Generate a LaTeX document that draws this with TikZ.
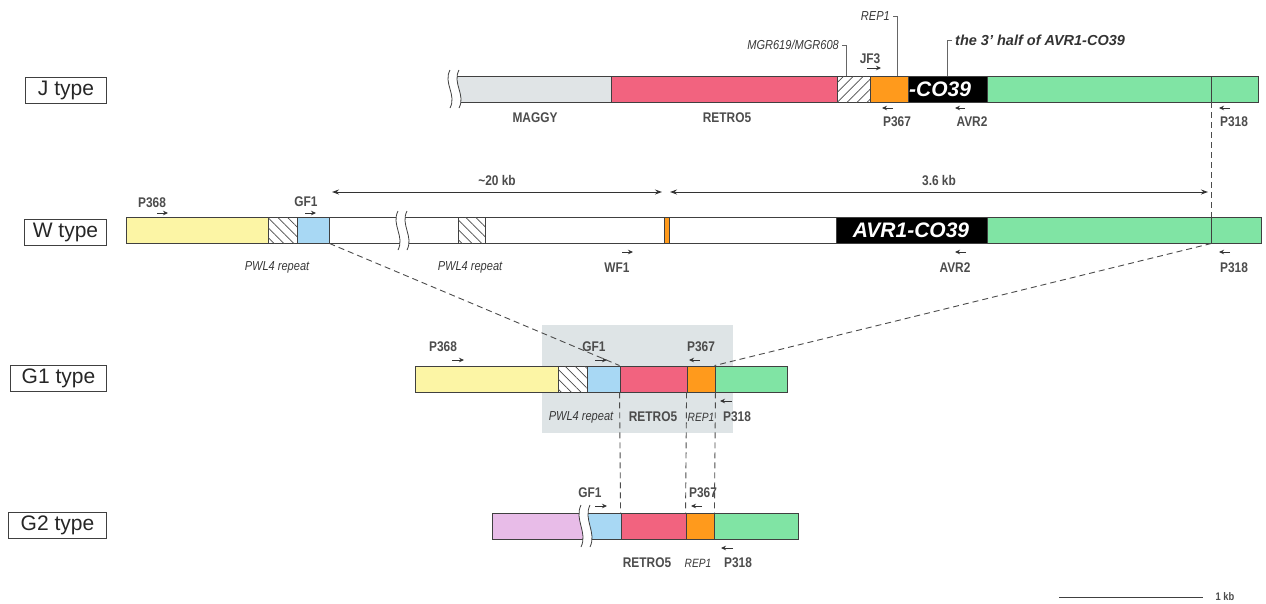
\documentclass[tikz,border=0pt]{standalone}
\usepackage{fontspec}
\setmainfont{Liberation Sans}
\newfontfamily\narrowsf[FakeStretch=0.85]{Liberation Sans}
\usetikzlibrary{arrows.meta, patterns.meta}
\definecolor{maggy}{HTML}{E0E4E6}
\definecolor{retro}{HTML}{F2637F}
\definecolor{rep}{HTML}{FF9A1C}
\definecolor{flank}{HTML}{80E4A4}
\definecolor{pwlyel}{HTML}{FCF5A5}
\definecolor{gfblue}{HTML}{A8D8F4}
\definecolor{lilac}{HTML}{E8BCE8}
\definecolor{gboxbg}{HTML}{DEE4E6}
% one block of a map: name, left x, right x, centre y, looks
\newcommand{\dnaseg}[5]{\node[segbox, #5, minimum width={(#3-#2)*1pt}] (#1) at ({(#2+#3)/2},#4) {};}
% break mark: left x, top y, bottom y
\newcommand{\barbreak}[3]{%
  \fill[white] (#1,#2) .. controls ({#1-7},{#2+0.35*(#3-#2)}) and ({#1+7},{#2+0.65*(#3-#2)}) .. (#1,#3)
    -- ({#1+9},#3) .. controls ({#1+16},{#2+0.65*(#3-#2)}) and ({#1+2},{#2+0.35*(#3-#2)}) .. ({#1+9},#2) -- cycle;
  \draw[brkline] (#1,#2) .. controls ({#1-7},{#2+0.35*(#3-#2)}) and ({#1+7},{#2+0.65*(#3-#2)}) .. (#1,#3);
  \draw[brkline] ({#1+9},#2) .. controls ({#1+2},{#2+0.35*(#3-#2)}) and ({#1+16},{#2+0.65*(#3-#2)}) .. ({#1+9},#3);}
\begin{document}
\begin{tikzpicture}[x=1pt, y=-1pt,
    every node/.style={inner sep=0pt},
    typebox/.style ={draw=black!75, line width=1pt, anchor=east, minimum height=26pt,
                     font=\fontsize{21}{24}\selectfont, text=black!85},
    segbox/.style  ={draw=black!75, line width=0.9pt, minimum height=26pt},
    hatchr/.style  ={fill=white, postaction={pattern={Lines[angle=45,distance=7pt,line width=0.7pt]}, pattern color=black!70}},
    hatchl/.style  ={fill=white, postaction={pattern={Lines[angle=-45,distance=7pt,line width=0.7pt]}, pattern color=black!70}},
    lbl/.style     ={font=\narrowsf\bfseries\fontsize{14}{16}\selectfont, text=black!70},
    ilbl/.style    ={font=\narrowsf\itshape\fontsize{13}{15}\selectfont, text=black!78},
    slbl/.style    ={font=\narrowsf\itshape\fontsize{12}{14}\selectfont, text=black!78},
    intext/.style  ={font=\bfseries\itshape\fontsize{21}{24}\selectfont, text=white},
    primer/.style  ={-{Stealth[length=5pt,width=4.5pt]}, line width=0.8pt, black!80},
    kbspan/.style  ={{Stealth[length=7pt,width=5pt]}-{Stealth[length=7pt,width=5pt]}, line width=0.9pt, black!80},
    leader/.style  ={line width=0.6pt, black!60},
    link/.style    ={dash pattern=on 6pt off 4pt, line width=0.9pt, black!70},
    brkline/.style ={line width=0.8pt, black!75},
]
\useasboundingbox (0,0) rectangle (1266,603);

% type labels
\node[typebox, minimum width=81pt] (jtype)  at (107,90)  {J type};
\node[typebox, minimum width=82pt] (wtype)  at (107,232) {W type};
\node[typebox, minimum width=96pt] (g1type) at (107,378) {G1 type};
\node[typebox, minimum width=98pt] (g2type) at (107,525) {G2 type};

% J type
\dnaseg{jmaggy}{456}{611}{89}{fill=maggy}
\dnaseg{jretro}{611}{837}{89}{fill=retro}
\dnaseg{jhatch}{837}{870}{89}{hatchr}
\dnaseg{jorange}{870}{908}{89}{fill=rep}
\dnaseg{javr}{908}{987}{89}{fill=black}
\dnaseg{jgreen}{987}{1211}{89}{fill=flank}
\dnaseg{jtail}{1211}{1258}{89}{fill=flank}
\barbreak{450}{70}{108}
\node[intext, anchor=west] (jco) at (909,89) {-CO39};
\node[lbl] (jmaggyl) at (535,118) {MAGGY};
\node[lbl] (jretrol) at (727,118) {RETRO5};
\node[ilbl, anchor=east] (mgr) at (839,45) {MGR619/MGR608};
\node[ilbl, anchor=east] (jrep) at (890,16) {REP1};
\node[lbl] (jf3) at (870,59) {JF3};
\node[font=\bfseries\itshape\fontsize{14.5}{16}\selectfont, text=black!80, anchor=west] (half) at (955,40) {the 3' half of AVR1-CO39};
\draw[leader] (mgr.east) ++(3,0) -| ([xshift=10pt]jhatch.north west);
\draw[leader] (jrep.east) ++(3,0) -| ([xshift=8pt]jorange.north);
\draw[leader] (half.west) ++(-3,0) -| (javr.north);
\draw[primer] (867,68) -- (881,68);
\draw[primer] (893,108) -- (882,108);
\draw[primer] (965,108) -- (955,108);
\draw[primer] (1230,108) -- (1219,108);
\node[lbl] (jp367) at (897,122) {P367};
\node[lbl] (javr2) at (972,122) {AVR2};
\node[lbl] (jp318) at (1234,122) {P318};

% W type
\dnaseg{wyel}{126}{268}{230}{fill=pwlyel}
\dnaseg{whatch}{268}{297}{230}{hatchl}
\dnaseg{wblue}{297}{329}{230}{fill=gfblue}
\dnaseg{wwhite}{329}{664}{230}{fill=white}
\dnaseg{worange}{664}{669}{230}{fill=rep}
\dnaseg{wwhiteb}{669}{836}{230}{fill=white}
\dnaseg{wavr}{836}{987}{230}{fill=black}
\dnaseg{wgreen}{987}{1211}{230}{fill=flank}
\dnaseg{wtail}{1211}{1261}{230}{fill=flank}
\dnaseg{whatchb}{458}{485}{230}{hatchl}
\barbreak{398}{211}{250}
\node[intext] (wco) at (911,230) {AVR1-CO39};
\coordinate (kbl) at (332,192);
\coordinate (kbm) at (662,192);
\coordinate (kbn) at (670,192);
\coordinate (kbr) at (1208,192);
\draw[kbspan] (kbl) -- node[above=6pt, lbl] {\textasciitilde20 kb} (kbm);
\draw[kbspan] (kbn) -- node[above=6pt, lbl] {3.6 kb} (kbr);
\node[lbl] (wp368) at (152,203) {P368};
\node[lbl] (wgf1) at (306,202) {GF1};
\draw[primer] (157,213) -- (168,213);
\draw[primer] (305,213) -- (316,213);
\node[ilbl] (wpwla) at (277,267) {PWL4 repeat};
\node[ilbl] (wpwlb) at (470,267) {PWL4 repeat};
\draw[primer] (622,252) -- (633,252);
\draw[primer] (966,252) -- (955,252);
\draw[primer] (1230,252) -- (1219,252);
\node[lbl] (wwf1) at (617,268) {WF1};
\node[lbl] (wavr2) at (955,268) {AVR2};
\node[lbl] (wp318) at (1234,268) {P318};

% G1 type
\fill[gboxbg] (542,325) rectangle (733,433);
\dnaseg{gyel}{415}{558}{379}{fill=pwlyel}
\dnaseg{ghatch}{558}{587}{379}{hatchl}
\dnaseg{gblue}{587}{620}{379}{fill=gfblue}
\dnaseg{gred}{620}{687}{379}{fill=retro}
\dnaseg{gorange}{687}{715}{379}{fill=rep}
\dnaseg{ggreen}{715}{787}{379}{fill=flank}
\node[lbl] (gp368) at (443,347) {P368};
\node[lbl] (ggf1) at (594,347) {GF1};
\node[lbl] (gp367) at (701,347) {P367};
\draw[primer] (452,360) -- (464,360);
\draw[primer] (595,360) -- (607,360);
\draw[primer] (700,360) -- (689,360);
\draw[primer] (732,401) -- (720,401);
\node[ilbl] (gpwl) at (581,417) {PWL4 repeat};
\node[lbl] (gretro) at (653,417) {RETRO5};
\node[slbl] (grep) at (701,417) {REP1};
\node[lbl] (gp318) at (737,417) {P318};

% G2 type
\dnaseg{hlilac}{492}{587}{526}{fill=lilac}
\dnaseg{hblue}{587}{621}{526}{fill=gfblue}
\dnaseg{hred}{621}{686}{526}{fill=retro}
\dnaseg{horange}{686}{714}{526}{fill=rep}
\dnaseg{hgreen}{714}{798}{526}{fill=flank}
\barbreak{581}{505}{547}
\node[lbl] (hgf1) at (590,493) {GF1};
\node[lbl] (hp367) at (703,493) {P367};
\draw[primer] (595,506) -- (607,506);
\draw[primer] (702,506) -- (691,506);
\draw[primer] (733,548) -- (721,548);
\node[lbl] (hretro) at (647,563) {RETRO5};
\node[slbl] (hrep) at (698,563) {REP1};
\node[lbl] (hp318) at (738,563) {P318};

% junctions between the maps
\draw[link] (jgreen.south east) -- (wgreen.north east);
\draw[link] (wblue.south east) -- (gred.north west);
\draw[link] (wgreen.south east) -- (ggreen.north west);
\draw[link] (gred.south west) -- (hred.north west);
\draw[link] (gorange.south west) -- (horange.north west);
\draw[link] (gorange.south east) -- (horange.north east);

% scale
\coordinate (sca) at (1059,597);
\coordinate (scb) at (1203,597);
\draw[line width=1pt, black!75] (sca) -- (scb) node[right=12pt, lbl, font=\narrowsf\bfseries\fontsize{11}{13}\selectfont] {1 kb};
\end{tikzpicture}
\end{document}
